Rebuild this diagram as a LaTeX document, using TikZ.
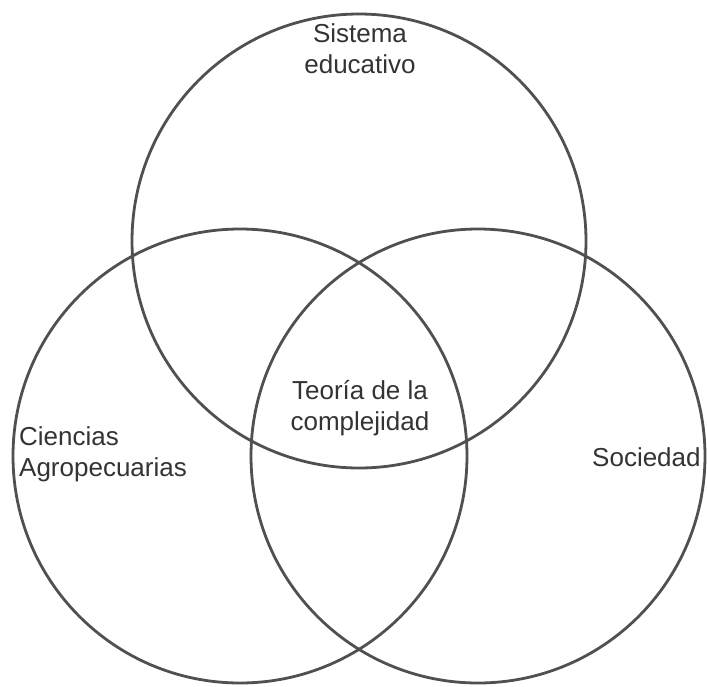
\documentclass[tikz,border=0pt]{standalone}
\usepackage{fontspec}
\setmainfont{Liberation Sans}
\begin{document}
\begin{tikzpicture}[x=1pt,y=-1pt,
  ring/.style={draw=ringgray, line width=2.8pt},
  label/.style={inner sep=0pt, text=textgray, font=\fontsize{26}{31.5}\selectfont, anchor=base}]
\definecolor{ringgray}{HTML}{505050}
\definecolor{textgray}{HTML}{333333}
\useasboundingbox (0,0) rectangle (707,686);
% three overlapping sets
\draw[ring] (359,241) circle[radius=227];
\draw[ring] (240,456) circle[radius=227];
\draw[ring] (478,456) circle[radius=227];
% set names
\node[label] (edu) at (360,42) {\begin{tabular}[t]{@{}c@{}}Sistema\\educativo\end{tabular}};
\node[label, anchor=base west] (agro) at (19,445) {\begin{tabular}[t]{@{}l@{}}Ciencias\\Agropecuarias\end{tabular}};
\node[label, anchor=base west] (soc) at (592,466) {Sociedad};
\node[label] (comp) at (360,399) {\begin{tabular}[t]{@{}c@{}}Teoría de la\\complejidad\end{tabular}};
\end{tikzpicture}
\end{document}
